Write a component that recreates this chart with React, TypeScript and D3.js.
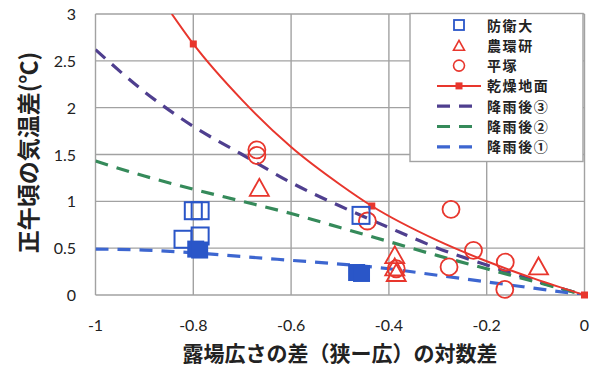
import React from "react";
import * as d3 from "d3";

// x positions shared by the dashed rain curves
const rainX = [-1, -0.9, -0.8, -0.7, -0.6, -0.5, -0.4, -0.3, -0.2, -0.1, 0];
const rain3 = [2.62, 2.17, 1.8, 1.5, 1.2, 0.95, 0.72, 0.5, 0.32, 0.15, 0];
const rain2 = [1.43, 1.27, 1.13, 1.0, 0.87, 0.72, 0.57, 0.42, 0.28, 0.14, 0];
const rain1 = [0.49, 0.48, 0.45, 0.41, 0.37, 0.33, 0.28, 0.21, 0.14, 0.07, 0];

// dry ground curve and its markers
const dryX = [-0.844, -0.8, -0.7, -0.6, -0.5, -0.435, -0.3, -0.2, -0.1, 0];
const dryY = [3.0, 2.68, 2.08, 1.58, 1.18, 0.95, 0.58, 0.36, 0.17, 0];
const dryMarkX = [-0.8, -0.435, 0];
const dryMarkY = [2.68, 0.95, 0];

// observations
const boueiX = [-0.8, -0.786, -0.821, -0.786, -0.457];
const boueiY = [0.9, 0.9, 0.595, 0.63, 0.85];
const boueiFillX = [-0.795, -0.787, -0.466, -0.456];
const boueiFillY = [0.49, 0.48, 0.24, 0.23];
const noukanX = [-0.665, -0.388, -0.388, -0.385, -0.094];
const noukanY = [1.15, 0.43, 0.3, 0.24, 0.31];
const hiraX = [-0.67, -0.67, -0.444, -0.385, -0.273, -0.227, -0.277, -0.162, -0.163];
const hiraY = [1.55, 1.49, 0.79, 0.28, 0.915, 0.477, 0.3, 0.35, 0.06];

const xTicks = [-1, -0.8, -0.6, -0.4, -0.2, 0];
const yTicks = [0, 0.5, 1, 1.5, 2, 2.5, 3];
const legendLabels = ["防衛大", "農環研", "平塚", "乾燥地面", "降雨後③", "降雨後②", "降雨後①"];

const RED = "#e8362d";
const BLUE_SQ = "#2a56c8";
const PURPLE = "#4f3f8f";
const GREEN = "#358a5a";
const BLUE = "#3d66d0";
const GRID = "#a2a2a2";

const W = 600;
const H = 375;
const left = 95.5, right = 584.5, top = 14, bottom = 295;

const x = d3.scaleLinear().domain([-1, 0]).range([left, right]);
const y = d3.scaleLinear().domain([0, 3]).range([bottom, top]);

const zip = (xs: number[], ys: number[]) => xs.map((v, i) => [v, ys[i]] as [number, number]);

const line = d3
  .line<[number, number]>()
  .x((d) => x(d[0]))
  .y((d) => y(d[1]))
  .curve(d3.curveMonotoneX);

const tri = (cx: number, cy: number, w: number, h: number) =>
  `M${cx},${cy - h / 2}L${cx + w / 2},${cy + h / 2}L${cx - w / 2},${cy + h / 2}Z`;

const tickFont = "Lato, 'Open Sans', sans-serif";
const cjkFont = "'Noto Sans CJK JP', sans-serif";

export default function App() {
  const dashed = [
    { data: rain3, color: PURPLE },
    { data: rain2, color: GREEN },
    { data: rain1, color: BLUE },
  ];

  const legX = 410, legY = 13.5, legW = 173, legH = 148;
  const rowY = (i: number) => 25 + i * 20.3;
  const symX = 459;

  return (
    <svg
      width={W}
      height={H}
      style={{ position: "fixed", left: 0, top: 0, background: "#fff" }}
    >
      <defs>
        <clipPath id="plot">
          <rect x={left} y={top} width={right - left} height={bottom - top} />
        </clipPath>
      </defs>

      {/* grid */}
      {xTicks.map((t) => (
        <line key={"gx" + t} x1={x(t)} x2={x(t)} y1={top} y2={bottom} stroke={GRID} strokeWidth={1.4} />
      ))}
      {yTicks.map((t) => (
        <line key={"gy" + t} x1={left} x2={right} y1={y(t)} y2={y(t)} stroke={GRID} strokeWidth={1.4} />
      ))}

      {/* tick labels */}
      {xTicks.map((t) => (
        <text key={"tx" + t} x={x(t)} y={331} textAnchor="middle" fontFamily={tickFont} fontSize={16} fill="#222">
          {t}
        </text>
      ))}
      {yTicks.map((t) => (
        <text key={"ty" + t} x={76} y={y(t) + 6} textAnchor="end" fontFamily={tickFont} fontSize={16} fill="#222">
          {t}
        </text>
      ))}

      {/* curves */}
      <g clipPath="url(#plot)">
        {dashed.map((s, i) => (
          <path
            key={i}
            d={line(zip(rainX, s.data)) || ""}
            fill="none"
            stroke={s.color}
            strokeWidth={3.2}
            strokeDasharray="13,9"
          />
        ))}
        <path d={line(zip(dryX, dryY)) || ""} fill="none" stroke={RED} strokeWidth={2} />
      </g>
      {zip(dryMarkX, dryMarkY).map((d, i) => (
        <rect key={"dm" + i} x={x(d[0]) - 3.5} y={y(d[1]) - 3.5} width={7} height={7} fill={RED} />
      ))}

      {/* observations */}
      {zip(hiraX, hiraY).map((d, i) => (
        <circle key={"h" + i} cx={x(d[0])} cy={y(d[1])} r={8.5} fill="none" stroke={RED} strokeWidth={1.8} />
      ))}
      {zip(noukanX, noukanY).map((d, i) => (
        <path key={"n" + i} d={tri(x(d[0]), y(d[1]), 19, 17)} fill="none" stroke={RED} strokeWidth={1.8} />
      ))}
      {zip(boueiX, boueiY).map((d, i) => (
        <rect
          key={"b" + i}
          x={x(d[0]) - 8.5}
          y={y(d[1]) - 8.5}
          width={17}
          height={17}
          fill="none"
          stroke={BLUE_SQ}
          strokeWidth={2}
        />
      ))}
      {zip(boueiFillX, boueiFillY).map((d, i) => (
        <rect key={"bf" + i} x={x(d[0]) - 8.5} y={y(d[1]) - 8.5} width={17} height={17} fill={BLUE_SQ} />
      ))}

      {/* legend */}
      <rect x={legX} y={legY} width={legW} height={legH} fill="#fff" stroke={GRID} strokeWidth={1.4} />
      <rect x={symX - 5} y={rowY(0) - 5} width={10} height={10} fill="none" stroke={BLUE_SQ} strokeWidth={1.8} />
      <path d={tri(symX, rowY(1), 11, 10)} fill="none" stroke={RED} strokeWidth={1.6} />
      <circle cx={symX} cy={rowY(2)} r={5.5} fill="none" stroke={RED} strokeWidth={1.6} />
      <line x1={437} x2={481} y1={rowY(3)} y2={rowY(3)} stroke={RED} strokeWidth={2} />
      <rect x={symX - 3.5} y={rowY(3) - 3.5} width={7} height={7} fill={RED} />
      {dashed.map((s, i) => (
        <line
          key={"ld" + i}
          x1={437}
          x2={472}
          y1={rowY(4 + i)}
          y2={rowY(4 + i)}
          stroke={s.color}
          strokeWidth={3.2}
          strokeDasharray="13,9"
        />
      ))}
      {legendLabels.map((t, i) => (
        <text
          key={"lt" + i}
          x={487}
          y={rowY(i) + 5.5}
          fontFamily={cjkFont}
          fontWeight={700}
          fontSize={14}
          letterSpacing={1.6}
          fill="#222"
        >
          {t}
        </text>
      ))}

      {/* axis titles */}
      <text x={340} y={361} textAnchor="middle" fontFamily={cjkFont} fontWeight={700} fontSize={21} fill="#222">
        露場広さの差（狭ー広）の対数差
      </text>
      <text
        transform="translate(37,152.5) rotate(-90)"
        textAnchor="middle"
        fontFamily={cjkFont}
        fontWeight={700}
        fontSize={23}
        fill="#222"
      >
        正午頃の気温差(℃)
      </text>
    </svg>
  );
}
